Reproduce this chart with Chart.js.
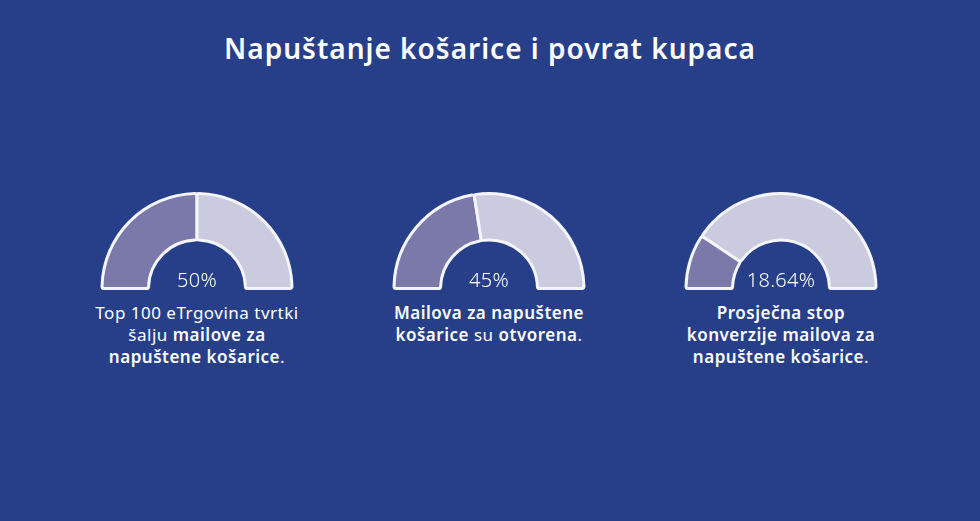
<!DOCTYPE html>
<html>
<head>
<meta charset="utf-8">
<script src="https://cdn.jsdelivr.net/npm/chart.js@4.4.0/dist/chart.umd.min.js"></script>
<style>
  html, body { margin: 0; padding: 0; }
  body {
    width: 980px; height: 521px; background: #263f88; position: relative;
    overflow: hidden; font-family: "Noto Sans", "Open Sans", sans-serif; color: #fff;
  }
  h1 {
    position: absolute; left: 0; top: 29px; width: 980px; margin: 0;
    text-align: center; font-size: 28px; font-weight: 600; line-height: 38px;
    letter-spacing: 1px;
  }
  .gauge { position: absolute; top: 190px; width: 204px; height: 102px; }
  .pct {
    position: absolute; top: 266px; width: 200px; text-align: center;
    font-size: 20px; font-weight: 300; letter-spacing: 0.3px;
  }
  .cap {
    position: absolute; top: 302px; width: 300px; text-align: center;
    font-size: 17px; line-height: 22px; font-weight: 400; letter-spacing: 0.5px;
  }
  .cap b { font-weight: 600; }
</style>
</head>
<body>
<h1>Napuštanje košarice i povrat kupaca</h1>

<div class="gauge" style="left:95px"><canvas id="g0"></canvas></div>
<div class="gauge" style="left:387px"><canvas id="g1"></canvas></div>
<div class="gauge" style="left:679px"><canvas id="g2"></canvas></div>

<div class="pct" id="p0" style="left:97px"></div>
<div class="pct" id="p1" style="left:389px"></div>
<div class="pct" id="p2" style="left:681px"></div>

<div class="cap" style="left:47px">Top 100 eTrgovina tvrtki<br>šalju <b>mailove za</b><br><b>napuštene košarice</b>.</div>
<div class="cap" style="left:339px"><b>Mailova za napuštene</b><br><b>košarice</b> su <b>otvorena</b>.</div>
<div class="cap" style="left:631px"><b>Prosječna stop</b><br><b>konverzije mailova za</b><br><b>napuštene košarice</b>.</div>

<script>
// postotci za svaki polukrug
const postotci = [50, 45, 18.64];
const oznake = ["50%", "45%", "18.64%"];
const dijelovi = ["Da", "Ne"];

const tamna = "#7b79aa";
const svijetla = "#cbcbe0";

postotci.forEach((p, i) => {
  document.getElementById("p" + i).textContent = oznake[i];

  const ctx = document.getElementById("g" + i).getContext("2d");
  new Chart(ctx, {
    type: 'doughnut',
    data: {
      labels: dijelovi,
      datasets: [{
        data: [p, 100 - p],
        backgroundColor: [tamna, svijetla],
        borderColor: '#f4f4fb',
        borderWidth: 3,
        borderRadius: 2
      }]
    },
    options: {
      responsive: true,
      maintainAspectRatio: false,
      animation: false,
      rotation: -90,
      circumference: 180,
      cutout: '51%',
      layout: { padding: 2 },
      plugins: { legend: { display: false }, tooltip: { enabled: false } }
    }
  });
});
</script>
</body>
</html>
